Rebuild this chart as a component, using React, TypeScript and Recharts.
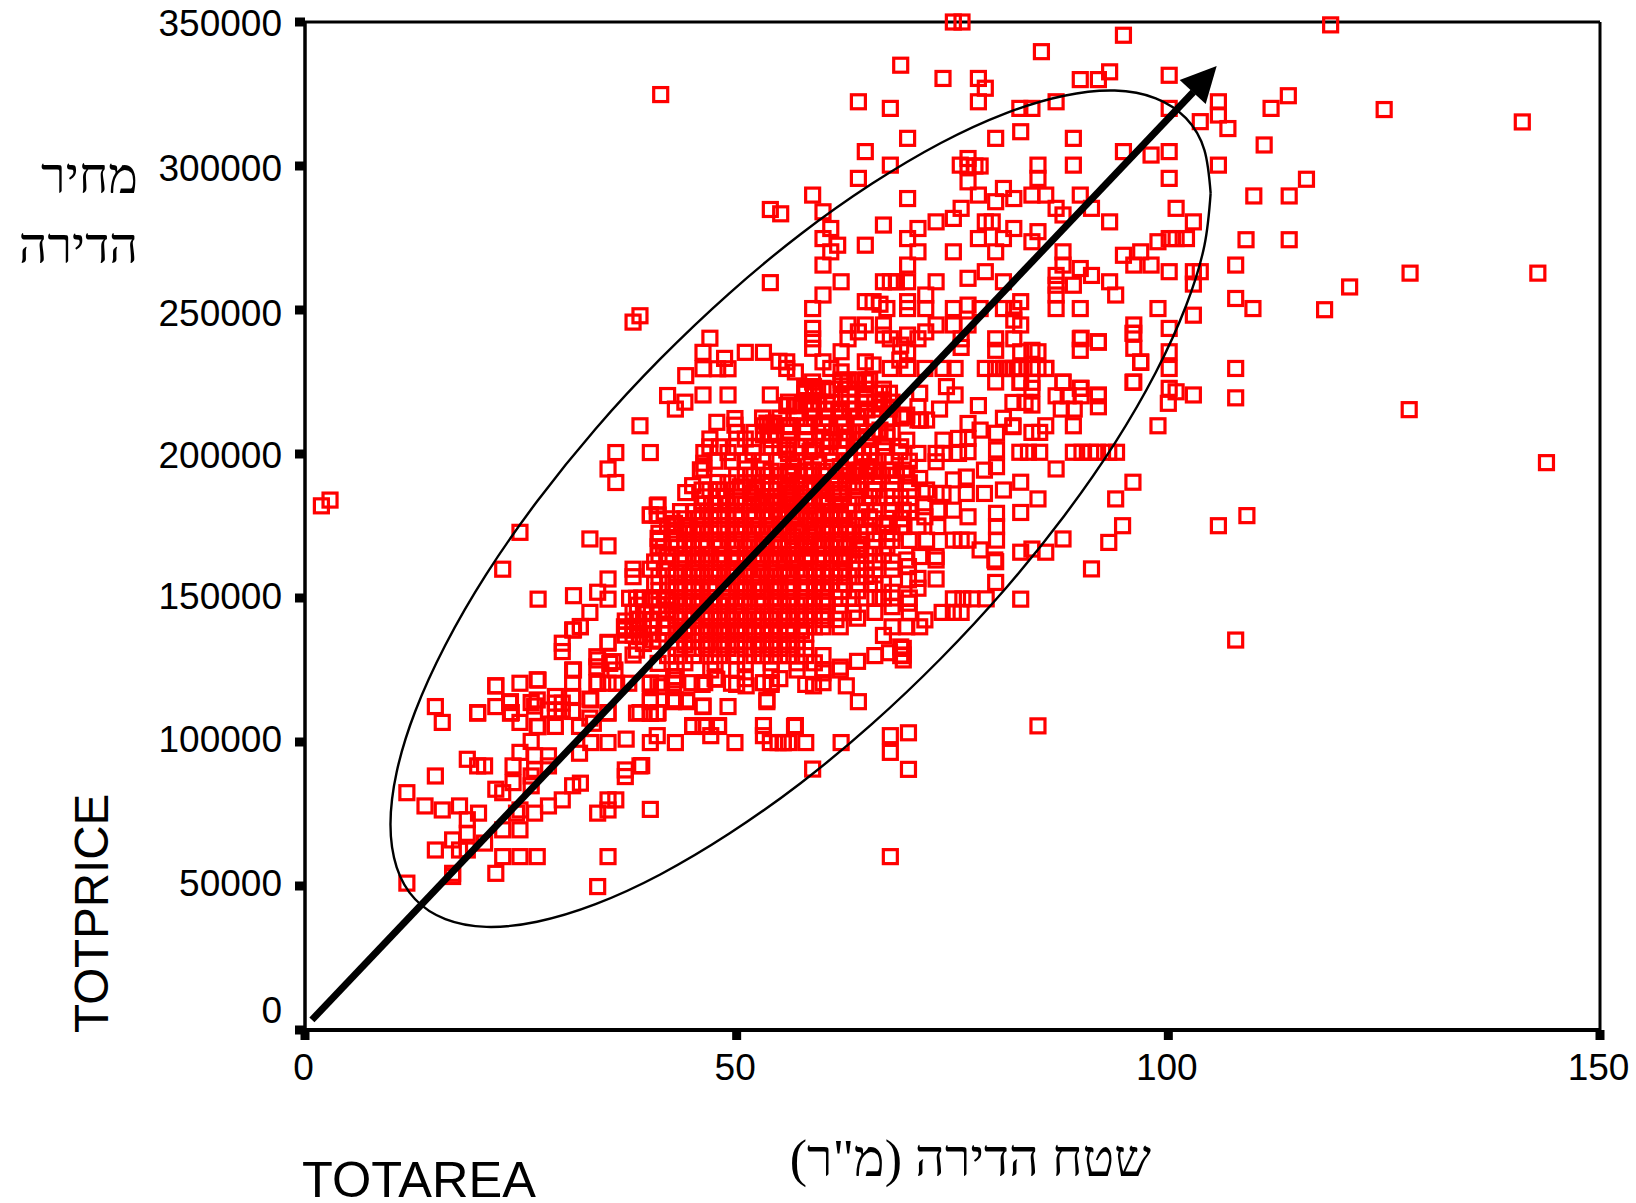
import { ReferenceLine, Scatter, ScatterChart, XAxis, YAxis } from "recharts";

// every reading is [area in sq m, price in thousands]
const outlierPoints = [
  [1.9, 182], [2.9, 184], [118.8, 349], [125, 319.6], [113.9, 324.4], [109.9, 289.6], [114, 289.6],
  [116, 295.4], [114, 274.4], [109, 274.4], [141, 315.3], [142.8, 262.8], [128, 262.8], [121, 258], [118.1, 250.1],
  [127.9, 215.4], [143.8, 197], [107.8, 135.4], [105.8, 175.1], [109.1, 178.6], [84.9, 105.6], [41.2, 324.8],
  [38, 245.8], [38.8, 248], [53.9, 284.9], [55.1, 283.4], [53.9, 259.5], [67.8, 60.2], [40, 76.6],
];

const topPoints = [
  [75.1, 350], [76.1, 350], [94.8, 345.4], [85.3, 339.7], [69, 335], [73.9, 330.4], [78, 330.4], [78.8, 327],
  [89.8, 330], [91.9, 330], [93.2, 332.7], [100.1, 331.5], [64.1, 322.3], [67.8, 320], [78, 322.3], [82.8, 320],
  [84.2, 320], [87, 322.3], [100.1, 320], [105.8, 322.3], [105.8, 317.7], [103.7, 315.4], [106.9, 313], [111.9, 320],
  [69.8, 309.6], [80, 309.6], [82.9, 311.9], [89, 309.6], [64.9, 305], [67.8, 300.3], [64.1, 295.7], [94.8, 305],
  [98, 303.8], [100.1, 305], [100.1, 295.7], [105.8, 300.3], [111.1, 307.3], [76.8, 302.6], [75.9, 300.3], [76.8, 300],
  [77.6, 300], [78.2, 300], [76.8, 294.5], [84.9, 300.3], [84.9, 295.7], [89, 300.3], [58.8, 289.9], [60, 284.1],
  [69.8, 288.7], [78, 289.9], [80.9, 292.2], [80, 287.6], [82.1, 288.7], [84.2, 289.9], [85.8, 289.9],
  [89.8, 289.9], [87, 285.3], [87.8, 283], [91.1, 285.3], [76, 285.3], [75.1, 281.8], [73.1, 280.6], [93.2, 280.6],
  [100.9, 285.3], [102.9, 280.6],
];

const upperPoints = [
  [67, 279.5], [71, 278.3], [78.8, 280.6], [79.6, 280.6], [60.9, 278.3], [60, 274.8], [61.7, 272.5], [60.9, 270.2],
  [60, 265.6], [64.9, 272.5], [69.8, 274.8], [71, 270.2], [69.8, 265.6], [78, 274.8], [80.9, 274.8], [82.1, 278.3],
  [84.9, 277.2], [84.2, 273.7], [80, 270.2], [75.1, 270.2], [87.8, 270.2], [87.8, 265.6], [89.8, 264.4], [91.1, 262],
  [87, 262], [87, 258.6], [87, 255.2], [87, 250.5], [89, 258.6], [89.8, 250.5], [94.8, 269], [96.8, 270.2],
  [96, 265.6], [98, 265.6], [98.8, 273.7], [100.1, 274.8], [100.9, 274.8], [102.1, 274.8], [100.1, 263.3], [102.9, 263.3],
  [103.7, 263.3], [102.9, 259], [93.2, 259.8], [93.9, 255.2], [107.8, 265.6], [107.8, 254], [109.8, 250.5], [98.8, 250.5],
  [102.9, 248.2], [107.8, 229.7], [96, 244.8], [96, 241.9], [96, 236.7], [100.1, 243.6], [96.8, 232], [100.1, 235.5],
  [100.1, 229.7], [96, 225], [100.1, 222.8], [100.9, 221.6], [102.9, 220.5], [107.8, 219.5], [89.8, 240], [89.8, 236],
  [91.9, 239], [62.1, 259.8], [67, 259.8], [67.8, 259.8], [68.5, 259.8], [69.8, 259.8], [73.1, 259.8], [76.8, 261],
  [78.8, 263.3], [80.9, 259.8], [60, 255.2], [58.8, 250.5], [64.9, 252.9], [65.8, 252.9], [66.6, 252], [67.4, 250.5],
  [69.8, 252.9], [69.8, 250.5], [71.9, 255.2], [71.9, 250.5], [75.1, 250.5], [76.8, 251.7], [78.2, 250.5], [80.9, 250.5],
  [82.9, 252.9], [82.1, 250.5], [58.8, 243.6], [58.8, 240], [58.8, 236.7], [62.9, 244.8], [62.9, 240], [64.1, 242.4],
  [64.9, 244.8], [67, 244.8], [67, 241.3], [67.8, 240], [69.8, 241.3], [69, 237.8], [69.8, 235.5], [71, 240],
  [71.9, 242.4], [73.1, 244.8], [75.1, 244.8], [76.8, 244.8], [76, 240], [76, 237], [80, 240], [80, 236],
  [82.1, 240], [82.9, 235.5], [84.2, 236], [84.9, 235.5], [82.1, 246.5], [82.9, 244.8], [62.1, 235.5], [60, 232],
  [60.9, 229.7], [62.1, 228.5], [64.9, 232], [65.8, 230.9], [67.8, 229.7], [69.8, 229.7], [68.9, 232.6], [71.8, 229.7],
  [73.9, 229.7], [75.3, 229.7], [78.8, 229.7], [80, 229.7], [80.9, 229.7], [82.1, 229.7], [82.9, 229.7], [84.2, 229.7],
  [85.8, 229.7], [87.8, 225], [89.8, 222.8], [91.9, 220.5], [80, 225], [82.9, 225], [55.8, 232], [55.8, 229.7],
  [56.8, 228.5], [58.8, 225], [57.9, 222.8], [60, 222.8], [62.1, 225], [62.9, 225], [64.9, 225],
];

const rightPoints = [
  [89.9, 240.2], [91.9, 238.8], [95.9, 241.9], [96.8, 231.8], [95.9, 224.9], [100, 217.6], [98.8, 209.8], [95.9, 190.2],
  [93.9, 184.4], [94.7, 175.1], [93.1, 169.3], [91.1, 160.1], [87.8, 170.5], [85.8, 165.9], [84.2, 167], [82.9, 165.9],
  [82.9, 149.6], [82.9, 179.7], [84.9, 184.4], [82.9, 190.2], [87, 194.8], [89, 200.6], [90, 200.6], [91, 200.6],
  [91.8, 200.6], [93.1, 200.6], [94, 200.6], [82.8, 200.6], [83.8, 200.6], [85.1, 200.6], [89, 209.8], [85.8, 209.8],
  [82, 209.8], [84.2, 207.5], [85.1, 207.5], [87, 220.2], [88.4, 220.2], [89.9, 222.8], [89.9, 220.2], [91.9, 220.2],
  [91.9, 216.4], [87.8, 224.9], [87.6, 215.6], [89.1, 215.6], [84.2, 222.8], [84.2, 217], [82, 217.9], [83.4, 217.9],
  [85.8, 229.7], [84.9, 229.7], [82.8, 229.7], [82, 229.7], [81.3, 229.7], [82.8, 224.9], [84.2, 224.9], [80, 155.4],
  [80, 162.6], [73.1, 156.6], [78.9, 149.7], [77.2, 149.7], [76.2, 149.7], [75.1, 149.7], [73.8, 145], [75.1, 145],
  [76, 145], [71.8, 142.4], [71.2, 140], [69.7, 140], [69.9, 148.2], [69.3, 132.5], [69.3, 130.2], [69.3, 128.5],
  [71, 156.8], [71, 153.4], [69.9, 160.9], [69.9, 156.3], [73.1, 163.2],
];

const lowerPoints = [
  [69.9, 103.2], [69.9, 90.5], [67.8, 102.2], [67.8, 96.4], [58.8, 90.6], [62.1, 99.8], [58, 99.8], [56.8, 105.7],
  [56, 99.8], [55.4, 99.8], [54.8, 99.8], [53.9, 99.8], [53.1, 102.2], [53.1, 105.7], [49.8, 99.8], [47, 102.2],
  [47.9, 105.7], [46.1, 105.7], [44.9, 105.7], [42.9, 99.8], [40, 99.8], [40.8, 102.2], [39, 91.8], [49, 112.3],
  [46.1, 112.3], [53.5, 114], [64.1, 114], [40, 110], [40.8, 110], [42.7, 114], [44.2, 114], [11.8, 82.4],
  [13.9, 77.8], [15.9, 76.4], [17.9, 77.8], [20.1, 75.3], [18.8, 73], [18.8, 68.3], [17.1, 66], [15.1, 62.5],
  [17.9, 62.5], [18.8, 62.5], [20.8, 64.9], [11.8, 51], [17.1, 54.4], [17.1, 53.3], [22.1, 54.4], [22.9, 60.2],
  [24.9, 60.2], [26.9, 60.2], [35.1, 60.2], [33.9, 49.8], [22.9, 69.5], [24.9, 69.5], [24.9, 76.4], [24.5, 75.3],
  [26.6, 75.3], [28.2, 77.8], [29.8, 79.9], [31, 84.8], [31.9, 85.7], [35.1, 79.9], [36, 79.9], [35.1, 76.4],
  [33.9, 75.3], [37.1, 90.3], [37.1, 88], [38.8, 91.7], [15.1, 112.3], [15.9, 106.8], [15.1, 88.2], [18.8, 94],
  [20, 91.7], [20.8, 91.7], [22.1, 83.6], [22.9, 82.4], [24.1, 91.7], [24.1, 85.9], [24.9, 96.4], [26.6, 95.2],
  [28.2, 95.2], [28.2, 91.7], [26.2, 100.2], [26.6, 90.5], [26.2, 88.2], [26.2, 84.8], [31.8, 96.1], [33.1, 99.8],
  [35.1, 99.8], [37.2, 101], [44.9, 105.4], [46.5, 105.4], [47.9, 105.4], [55.4, 99.8], [56.7, 105.4],
];

const shoulderPoints = [
  [20, 110], [22.1, 112.3], [22.1, 119.5], [23.7, 113.7], [23.9, 110.2], [24.9, 120.4], [24.9, 106.8], [26.9, 121.6],
  [26.9, 114.6], [26.2, 113.7], [26.6, 112.5], [26.9, 105.4], [29, 115.8], [29, 113.5], [29, 111.1], [29.8, 113.5],
  [29.8, 111.1], [28.2, 111.1], [29, 105.4], [31, 125], [31, 120.4], [31, 115.8], [31, 110.6], [31.8, 105.4],
  [33.1, 114.6], [35.1, 134.3], [33.9, 128.5], [33.9, 120.4], [35.7, 127.9], [35.1, 120.4], [35.1, 110.2], [33.4, 106.5],
  [33, 108.3], [29.8, 134.3], [29.8, 131.4], [31, 138.9], [31.9, 140.1], [37.1, 138.9], [38, 138.9], [38.8, 136.6],
  [37.1, 142], [38, 130.2], [40, 120.4], [40, 114], [38.8, 110.2], [40.9, 110.2], [40.9, 120.4], [42.9, 114.6],
  [44.2, 114.6], [46.1, 112.5], [42.9, 121.6], [44.8, 120.6], [46.3, 120.6], [47.7, 121.8], [49.4, 120.4], [51.1, 119.5],
  [53.1, 120.6], [54, 120.6], [53.5, 114.6], [58.9, 119.5], [60, 120.6], [62.7, 119.5], [24.9, 172.8], [22.9, 160],
  [33, 170.5], [35.1, 168.1], [27, 149.6], [31.1, 150.8], [33.9, 152], [35.1, 149.6], [35.1, 156.6], [38, 160],
  [38, 157.4], [40, 160], [37.6, 149.9], [38.4, 149.9], [33, 145], [31.9, 140], [31.1, 138.9], [35.1, 134.6],
  [37.1, 139.4], [37.1, 137.1], [38, 139.4], [38, 137.1], [33.8, 129.6], [33.8, 126.1], [35.3, 127.3], [35.9, 125],
  [31.1, 125], [27, 121.5], [22.1, 119.5], [20, 110.2], [23.8, 114], [23.8, 110], [27, 105.3], [33, 114.9],
  [33.8, 120.6], [35.1, 110], [38.4, 110], [40, 114.6], [40, 110], [40, 120.4], [41.3, 119.2], [42.7, 120.4],
  [42.7, 114.6], [36.1, 120.4], [37.5, 120.4], [38.4, 131.9], [40.9, 127.3], [42.7, 122.7], [40, 178.8], [40.9, 182.3],
  [40.9, 178.8], [40.9, 170.7], [40.9, 167.8], [42.7, 173.6], [41.9, 164.3], [39.2, 144.6], [39.2, 140], [40.3, 135.4],
  [39.2, 134.2], [40.3, 149.3], [41.9, 149.3], [41.9, 145.8], [40.3, 142.3], [41.9, 140],
];

const shelfPoints = [
  [46.9, 240.2], [46.1, 235.3], [48.6, 233.2], [51, 235.3], [53.1, 235.3], [54.9, 232.2], [46.1, 229.6], [47.8, 229.6],
  [49, 229.6], [44.1, 227.2], [42, 220.3], [44, 218], [46.1, 220.5], [49, 220.5], [53.9, 220.5], [42.9, 215.6],
  [38.8, 209.8], [36, 200.5], [40, 200.5], [35.1, 194.8], [36, 190.1], [47.7, 211], [49.8, 212.3], [49.8, 210],
  [53.9, 209.8], [53.1, 209.8], [53.9, 206.6], [53.1, 206.6], [56.1, 209.8], [46.9, 205.2], [46.9, 202.5], [46.2, 200.5],
  [49, 200.5], [51.9, 200.5], [51, 205.2], [46.2, 194.8], [51, 194.8], [53.1, 194.8], [44.9, 189], [44.1, 186.6],
  [47.8, 190.1], [47.8, 187.5], [46.9, 187.5], [40.8, 182], [40.8, 178.8], [40, 178.8], [42.8, 175.9], [44.2, 174.7],
  [45.5, 173.6], [46.3, 185.1], [47.1, 182.8], [48.8, 185.1], [50.4, 188.6], [52.3, 188.6], [53.4, 182.8], [54.2, 182.8],
  [55, 180.5], [55.8, 185.1], [56.5, 186.3], [45.8, 194.5], [46.2, 196.8], [56, 216.8], [57, 216.8], [58, 222],
  [59, 222], [60.5, 222], [58.9, 215.3], [60.5, 215.3], [62, 215.3], [63.5, 215.3], [65.1, 215.3], [67, 218.8],
  [69.7, 213.5], [71.3, 211.8], [53.5, 210.7], [54.3, 210.7], [56.2, 209.5], [58.1, 209.5], [60.1, 210.7], [62.4, 210.7],
  [55.8, 201.4], [58.9, 201.4], [60.8, 204.9], [62.8, 204.9], [65.1, 206], [67.4, 206], [56.6, 195.6], [58.9, 194.4],
  [62, 195.6], [65.1, 195.6], [67.8, 194.4], [69.7, 193.3], [51.6, 186.3], [53.5, 185.2], [55.8, 187.5], [57.4, 186.3],
  [59.7, 188.7], [61.2, 186.3], [63.5, 188.7], [65.9, 187.5],
];

const midRightPoints = [
  [57.9, 223.4], [58.9, 223.4], [57.9, 221.1], [58.9, 221.1], [62.1, 225.7], [62.9, 225.7], [64.1, 225.7], [65, 225.7],
  [65.4, 225.7], [55.8, 216.8], [56.7, 216.8], [58.5, 215.6], [60.2, 215.6], [62.1, 215.6], [63.1, 215.6], [64.9, 215.6],
  [66.6, 215.6], [62.1, 219.3], [64.9, 219.3], [66.6, 221.1], [67.7, 221.1], [67.7, 215.6], [69.3, 213], [71, 216.4],
  [71, 211.8], [72, 211.8], [71.2, 221.1], [73.5, 215.6], [74.3, 223.4], [75.3, 220.5], [78, 216.8], [55.8, 209.8],
  [57.9, 209.8], [60, 209.8], [62.1, 209.8], [64.3, 209.8], [66.6, 208.3], [67.4, 207.2], [69.7, 204.8], [71, 200.2],
  [68.9, 200.8], [73.9, 204.8], [73.9, 200.2], [73.1, 200.2], [73.1, 197.3], [76.8, 210.6], [76.8, 205.4], [76.8, 200.8],
  [78.2, 208.3], [75.7, 205.4], [75.7, 200.2], [80.1, 207.2], [80.1, 201.4], [80.1, 195.6], [80.9, 212.4], [82, 209.5],
  [56, 203.1], [56, 200.2], [58.5, 200.8], [60.8, 204.3], [60.8, 200.2], [62.7, 204.8], [64.7, 200.2], [65.4, 200.2],
  [67.2, 199.1], [56.2, 193.3], [58.7, 194.4], [56.2, 186.3], [55.8, 184], [62.7, 194.4], [64.3, 194.4], [65.4, 194.4],
  [67.4, 194.4], [69.3, 194.4], [71.2, 191.5], [73.1, 186.3], [73.9, 186.3], [75.1, 191], [76.6, 192], [76.6, 186.3],
  [78.7, 194.4], [78.7, 186.3], [80.9, 187.5], [80.1, 179.4], [80.1, 174.8], [80.1, 170.1], [78.2, 166.7], [79.9, 163.2],
  [76.8, 178.2], [75.1, 180.5], [75.1, 170.1], [76, 170.1], [76.8, 170.1], [73.3, 180.5], [73.3, 174.8], [71.8, 181.7],
  [71.8, 178.2], [69.3, 180.5], [69.3, 174.8], [72, 170.1], [73.1, 164.4], [71.2, 164.4], [69.7, 163.2], [67.4, 185.2],
  [67.4, 175.9], [67.4, 172.4], [67.4, 167.8], [65.4, 185.2], [65.4, 178.2], [64.3, 172.4], [64.3, 166.7], [62, 186.3],
  [62, 179.4], [62, 172.4], [62, 164.4], [60, 182.9], [60, 174.8], [60, 167.8], [58.5, 188.6], [58.5, 177.1],
  [58.5, 171.3], [58.5, 164.4], [56.5, 178.2], [56.5, 171.3], [56.5, 163.2], [66, 158], [67, 155], [68, 152],
  [66, 150], [68, 150], [70, 150], [68, 147], [70, 145], [66, 145], [64, 143], [68, 140],
  [67, 137], [67.7, 131], [69, 133], [69, 130], [66, 130], [64, 128], [62, 126], [60, 124],
];

// the solid middle of the cloud, read row by row: price, then areas on that row
const coreRows: [number, number[]][] = [
  [222.5, [59, 61, 63, 65, 67]],
  [218, [56, 58, 59.5, 61, 63, 65, 66, 68]],
  [212.5, [53, 55, 57, 59, 60.5, 62, 64, 66, 67.5, 69]],
  [207.5, [50, 52, 54.5, 56, 58, 60, 61, 63, 65, 66, 68]],
  [205, [54, 56, 58, 60, 62, 64]],
  [202.5, [48, 50, 52, 54, 55, 57, 59, 60, 62, 64, 65.5, 67, 69]],
  [197.5, [47.5, 49.5, 51, 53, 55, 57, 58, 59.5, 61, 63, 64.5, 66, 68, 70]],
  [194, [54, 56, 58, 60, 62, 64, 66]],
  [192.5, [50, 52, 53.5, 55, 56, 58, 60, 61.5, 63, 65, 66.5, 68.5]],
  [190, [49, 51, 53, 54, 55, 57, 59, 60, 61, 63, 64, 66, 68, 70]],
  [187.5, [46, 48, 50, 52, 54, 56, 58, 60, 62, 64, 66, 68, 70, 72]],
  [185, [48, 50, 52, 53, 54.5, 56, 58, 59, 60, 62, 64, 66.5, 69]],
  [183.7, [50, 52, 54, 56, 58, 60, 62]],
  [182.5, [46, 47.5, 49, 51, 52.5, 54, 55, 57, 58.5, 60.5, 61.5, 63, 65, 68, 70]],
  [180, [43.5, 45, 46, 48, 50, 51.5, 53, 54, 56, 57.5, 59, 60, 61, 63, 64.5, 66, 68, 70]],
  [178.7, [46, 48, 50, 52, 54, 55, 57, 59, 60, 62]],
  [177.5, [42.5, 44, 45.5, 47, 49, 50.5, 52, 53.5, 55, 56.5, 58, 59.5, 61, 62.5, 64, 66, 69]],
  [175, [42, 43, 44.5, 46, 48, 50, 51, 52.5, 54, 55.5, 57, 58.5, 60, 62, 63, 65, 67, 69, 71]],
  [173.7, [44, 46, 48, 50, 52, 53.5, 55, 57, 59, 61, 63]],
  [172.5, [41, 42.5, 44, 45, 47, 49, 50.5, 52, 53, 54.5, 56, 57.5, 59, 60.5, 62, 63.5, 65, 68]],
  [170, [41, 43, 44, 46, 47.5, 49, 50, 51.5, 53, 55, 56, 58, 59, 60, 61.5, 63, 64.5, 66, 68, 70]],
  [168.7, [44, 46, 48, 50, 52, 53.5, 55, 57, 58.5, 60, 62, 64]],
  [167.5, [41.5, 43, 45, 46.5, 48, 49.5, 51, 52.5, 54, 55, 56.5, 58, 59.5, 61, 62.5, 64, 66]],
  [165, [41, 42, 44, 45.5, 47, 48.5, 50, 52, 53, 54.5, 56, 57, 58.5, 60, 61, 63, 65, 67]],
  [163.7, [44, 46, 48, 49.5, 51, 53, 55, 56.5, 58, 60, 62]],
  [162.5, [40.5, 42, 43.5, 45, 46.5, 48, 50, 51, 52.5, 54, 55.5, 57, 58, 59.5, 61, 62.5, 64, 66, 68]],
  [160, [42, 44, 45, 47, 49, 50, 51.5, 53, 54, 55.5, 57, 58, 59, 61, 62, 64, 65, 68]],
  [158.7, [43, 45.5, 47.5, 49, 51, 52.5, 54.5, 56, 58, 60, 62]],
  [157.5, [41, 43, 44.5, 46, 48, 49.5, 51, 52, 53.5, 55, 56, 57.5, 59, 60, 62, 63, 65]],
  [155, [40.5, 42, 44, 45, 47, 48.5, 50, 51, 52.5, 54, 55, 56.5, 58, 60, 61, 62.5, 64, 66]],
  [153.7, [43, 45, 47, 49, 51, 52.5, 54.5, 56, 58, 60]],
  [152.5, [41, 43, 45, 46, 47.5, 49, 50.5, 52, 53, 55, 56, 57.5, 59, 60, 62, 64]],
  [150, [39, 40, 42, 43, 44, 46, 47, 49, 50, 51, 53, 54, 55, 56, 58, 59, 60, 62, 63, 65, 67]],
  [148.7, [43, 45, 47, 49, 50.5, 52.5, 54.5, 56, 58, 60]],
  [147.5, [38.5, 41, 42.5, 44, 45.5, 47, 48, 50, 51.5, 53, 54.5, 56, 57, 59, 60.5, 62]],
  [145, [38, 39.5, 41, 42, 44, 45, 46, 48, 49, 50, 52, 53, 55, 56, 57, 59, 60, 62, 63.5]],
  [143.7, [43, 45, 47, 49, 50.5, 52, 54, 56, 58, 60]],
  [142.5, [38.5, 40, 42, 43, 45, 46.5, 48, 49.5, 51, 52.5, 54, 55.5, 57, 58, 60, 61.5]],
  [140, [37, 38.5, 40, 42, 43, 44, 46, 47, 48, 50, 51, 53, 54, 55, 56, 58, 59, 60, 62]],
  [138.7, [44, 46.5, 48.5, 50, 52, 54, 56, 57.5]],
  [137.5, [40, 41.5, 43, 45, 46, 47.5, 49, 50.5, 52, 53, 55, 56, 58]],
  [135, [41, 43, 44, 45, 47, 48, 50, 51, 53, 54, 56, 57]],
  [133.7, [44, 46.5, 48.5, 50, 52.5, 54, 56]],
  [132.5, [43, 45, 46, 48, 49, 51, 52, 54, 55, 57, 58]],
  [130, [42, 43, 45, 47, 48, 50, 52, 53, 55, 56, 58, 60]],
  [127.5, [44, 47.5, 51, 54, 57, 59]],
  [125, [43, 47, 50, 54, 57, 60, 62]],
  [122, [47.5, 51, 55]],
  [120, [46, 50, 54, 58]],
];

// outline of the hand-drawn ellipse, read around from its right-hand side
const ellipseOutline = [
  [104.9, 290.6], [104.18, 305.5], [102.04, 316.6], [98.54, 323.5], [93.79, 326.2], [87.93, 324.4], [81.15, 318.3],
  [73.65, 308], [65.65, 293.8], [57.4, 276.3], [49.15, 255.8], [41.15, 233], [33.65, 208.7], [26.87, 183.5],
  [21.01, 158.3], [16.26, 133.7], [12.76, 110.6], [10.62, 89.6], [9.9, 71.4], [10.62, 56.5], [12.76, 45.4],
  [16.26, 38.5], [21.01, 35.8], [26.87, 37.6], [33.65, 43.7], [41.15, 54], [49.15, 68.2], [57.4, 85.7],
  [65.65, 106.2], [73.65, 129], [81.15, 153.3], [87.93, 178.5], [93.79, 203.7], [98.54, 228.3], [102.04, 251.4],
  [104.18, 272.4], [104.9, 290.6],
];

const arrowShaft = [[0.8, 3.5], [102.9, 325.7]];
const arrowTip = [[105.6, 334.7]];

const xTicks = [0, 50, 100, 150];
const yTicks = [0, 50000, 100000, 150000, 200000, 250000, 300000, 350000];
// the labels do not sit exactly on their ticks in the original
const yLabelShift: Record<number, number> = {
  0: -20, 50000: -3, 100000: -3, 150000: -2.5, 200000: 1, 250000: 3, 300000: 1.5, 350000: 0.5,
};

const toRows = (list: number[][]) => list.map(([area, price]) => ({ area, price: price * 1000 }));

const pricePoints = toRows([
  ...outlierPoints,
  ...topPoints,
  ...upperPoints,
  ...rightPoints,
  ...lowerPoints,
  ...shoulderPoints,
  ...shelfPoints,
  ...midRightPoints,
  ...coreRows.flatMap(([price, areas]) => areas.map((area) => [area, price])),
]);

const sansFont = "'Liberation Sans', Arial, sans-serif";
const hebrewFont = "'Liberation Serif', 'Times New Roman', serif";

function SquareMarker({ cx, cy }: any) {
  return <rect x={cx - 7} y={cy - 7} width={14} height={14} fill="none" stroke="#ff0000" strokeWidth={3.2} />;
}

function NoMarker() {
  return <g />;
}

function ArrowHead({ cx, cy }: any) {
  return <polygon points={`${cx},${cy} ${cx - 37},${cy + 14} ${cx - 11},${cy + 38}`} fill="#000" />;
}

function XTick({ x, y, payload }: any) {
  return (
    <text x={x - 1.5} y={y + 40} textAnchor="middle" fontFamily={sansFont} fontSize={37} fill="#000">
      {payload.value}
    </text>
  );
}

function YTick({ y, payload }: any) {
  return (
    <text x={282} y={y + 13 + yLabelShift[payload.value]} textAnchor="end" fontFamily={sansFont} fontSize={37} fill="#000">
      {payload.value}
    </text>
  );
}

export default function App() {
  return (
    <div style={{ position: "absolute", left: 0, top: 0, width: 1636, height: 1203, background: "#fff" }}>
      <ScatterChart width={1636} height={1203} margin={{ top: 22, right: 36, bottom: 0, left: 0 }}>
        <XAxis
          type="number"
          dataKey="area"
          domain={[0, 150]}
          ticks={xTicks}
          height={173}
          interval={0}
          tick={<XTick />}
          tickSize={10}
          tickMargin={0}
          axisLine={{ stroke: "#000", strokeWidth: 4 }}
          tickLine={{ stroke: "#000", strokeWidth: 9 }}
        />
        <YAxis
          type="number"
          dataKey="price"
          domain={[0, 350000]}
          ticks={yTicks}
          width={305}
          interval={0}
          tick={<YTick />}
          tickSize={10}
          tickMargin={0}
          axisLine={{ stroke: "#000", strokeWidth: 3.5 }}
          tickLine={{ stroke: "#000", strokeWidth: 9 }}
        />
        <ReferenceLine y={350000} stroke="#000" strokeWidth={3} />
        <ReferenceLine x={150} stroke="#000" strokeWidth={3} />
        <Scatter data={pricePoints} shape={SquareMarker} isAnimationActive={false} />
        <Scatter
          data={toRows(ellipseOutline)}
          shape={NoMarker}
          line={{ stroke: "#000", strokeWidth: 2.4 }}
          lineJointType="natural"
          isAnimationActive={false}
        />
        <Scatter
          data={toRows(arrowShaft)}
          shape={NoMarker}
          line={{ stroke: "#000", strokeWidth: 7 }}
          isAnimationActive={false}
        />
        <Scatter data={toRows(arrowTip)} shape={ArrowHead} isAnimationActive={false} />
      </ScatterChart>
      <svg width={1636} height={1203} style={{ position: "absolute", left: 0, top: 0, pointerEvents: "none" }}>
        <text x={302} y={1197} fontFamily={sansFont} fontSize={50.5} fill="#000">
          TOTAREA
        </text>
        <text transform="translate(108,1033) rotate(-90)" fontFamily={sansFont} fontSize={47.5} fill="#000">
          TOTPRICE
        </text>
        <text x={1151} y={1176} direction="rtl" fontFamily={hebrewFont} fontSize={52} fill="#000">
          שטח הדירה (מ"ר)
        </text>
        <text x={138} y={193} direction="rtl" fontFamily={hebrewFont} fontSize={50} fill="#000">
          מחיר
        </text>
        <text x={138} y={263} direction="rtl" fontFamily={hebrewFont} fontSize={50} fill="#000">
          הדירה
        </text>
      </svg>
    </div>
  );
}
